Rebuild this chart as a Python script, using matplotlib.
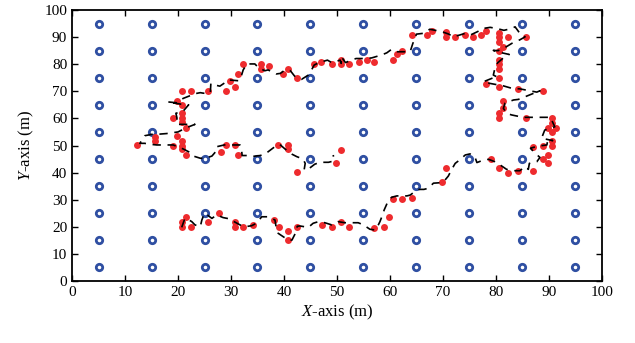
import matplotlib
matplotlib.use('Agg')
import matplotlib.pyplot as plt
import numpy as np

plt.rcParams['font.family'] = 'Liberation Serif'
plt.rcParams['mathtext.fontset'] = 'custom'
plt.rcParams['mathtext.rm'] = 'Liberation Serif'
plt.rcParams['mathtext.it'] = 'Liberation Serif:italic'

# anchor nodes on a 10 m grid
grid_x = [5, 15, 25, 35, 45, 55, 65, 75, 85, 95]
grid_y = [5, 15, 25, 35, 45, 55, 65, 75, 85, 95]

# estimated positions (red)
est_x = [12.3, 15.7, 15.7, 19.0, 20.7, 20.7, 19.9, 20.7, 21.5, 21.5, 20.7, 20.7, 20.7, 19.0, 20.7, 19.9,
         20.7, 22.4, 25.6, 29.0, 30.7, 29.9, 31.4, 32.3, 35.7, 35.7, 37.1, 39.9, 40.7, 42.4, 45.6, 47.0,
         49.0, 50.7, 50.7, 52.3, 54.2, 55.7, 57.0, 60.6, 61.4, 62.3, 64.2, 67.0, 68.0, 70.6, 70.6, 72.3,
         74.2, 75.6, 77.1, 78.1, 80.6, 80.6, 80.6, 82.3, 85.7, 81.4, 80.6, 80.6, 80.6, 80.6, 80.6, 78.1,
         80.6, 84.2, 88.9, 81.4, 81.4, 80.6, 80.6, 85.7, 90.6, 90.6, 91.4, 89.9, 90.6, 90.6, 90.6, 88.9,
         87.0, 88.9, 89.9, 89.9, 87.0, 84.2, 82.3, 80.6, 79.0, 70.6, 69.9, 64.2, 62.3, 60.6, 59.9, 58.9,
         57.0, 20.7, 20.7, 21.5, 22.4, 25.6, 27.7, 30.7, 30.7, 32.3, 34.2, 38.1, 39.1, 40.7, 40.7, 42.4,
         47.1, 49.0, 50.7, 52.3, 28.2, 29.0, 30.7, 31.4, 38.9, 40.7, 40.7, 42.4, 50.7, 49.9]
est_y = [50.1, 51.8, 53.3, 50.0, 50.0, 51.8, 53.6, 48.6, 46.5, 56.6, 58.6, 60.0, 61.9, 60.0, 65.0, 66.5,
         70.1, 70.1, 70.1, 70.1, 71.7, 73.7, 76.5, 80.1, 80.1, 78.3, 79.3, 76.5, 78.3, 75.0, 80.1, 80.8,
         80.1, 81.5, 80.1, 80.1, 80.8, 81.5, 80.8, 81.5, 83.6, 85.0, 90.9, 90.9, 92.4, 91.8, 90.0, 90.0,
         90.9, 90.0, 90.9, 92.4, 91.6, 90.0, 88.2, 90.0, 90.0, 86.5, 85.0, 81.5, 80.1, 78.3, 75.0, 72.7,
         71.7, 70.7, 70.1, 66.5, 63.7, 61.9, 60.0, 60.0, 60.0, 58.4, 56.6, 56.6, 55.1, 51.8, 50.0, 50.0,
         49.6, 45.1, 46.5, 43.7, 40.7, 40.7, 40.0, 41.8, 45.1, 41.8, 36.5, 30.7, 30.1, 30.1, 23.7, 20.0,
         19.4, 21.9, 20.0, 23.7, 20.0, 21.9, 25.2, 21.9, 20.0, 20.0, 20.8, 22.5, 20.0, 18.5, 15.1, 20.0,
         20.8, 20.0, 21.9, 20.0, 47.6, 50.2, 50.2, 46.5, 50.2, 50.2, 48.6, 40.1, 48.5, 43.7]

# travelled path (dashed)
path_x = [20.7, 21.3, 21.6, 22.6, 23.2, 24.2, 24.5, 24.8, 25.1, 26.4, 27.3, 28.5, 29.8, 30.4, 31.7, 32.6,
          33.9, 34.8, 35.8, 37.0, 38.3, 38.5, 38.9, 39.9, 40.8, 41.5, 42.3, 42.5, 43.0, 44.6, 45.5, 46.5,
          47.7, 49.0, 50.2, 51.5, 52.8, 54.0, 55.0, 56.2, 57.2, 57.8, 58.1, 58.6, 58.9, 59.6, 60.3, 61.3,
          63.2, 63.8, 64.7, 65.5, 66.4, 67.2, 68.2, 69.8, 70.4, 71.0, 71.6, 72.3, 73.1, 74.2, 75.1, 76.0,
          76.4, 77.6, 78.6, 79.8, 80.8, 82.0, 83.3, 84.5, 85.5, 86.1, 86.3, 87.7, 88.3, 87.4, 86.5, 88.0,
          89.6, 89.8, 90.7, 88.6, 89.2, 91.1, 90.5, 90.3, 86.9, 85.1, 82.9, 82.0, 81.4, 81.7, 83.3, 84.2,
          85.5, 88.3, 87.7, 84.5, 83.0, 81.4, 78.9, 77.6, 79.5, 80.3, 79.5, 79.8, 80.3, 81.5, 82.5, 80.9,
          79.5, 80.4, 82.0, 83.0, 84.5, 85.5, 84.5, 83.6, 83.0, 81.5, 80.1, 78.9, 77.6, 76.5, 75.2, 74.2,
          73.2, 71.9, 71.1, 70.1, 68.8, 67.5, 66.3, 65.0, 64.3, 63.8, 62.2, 61.3, 60.3, 59.4, 58.4, 56.5,
          54.9, 53.6, 52.7, 51.6, 50.8, 50.8, 50.6, 49.0, 48.2, 46.6, 45.7, 45.2, 44.6, 43.3, 42.0, 41.2,
          40.2, 39.3, 38.5, 37.0, 36.4, 35.3, 34.5, 33.0, 32.3, 32.0, 31.4, 29.5, 29.1, 27.9, 27.0, 26.2,
          26.1, 24.8, 24.2, 22.9, 22.3, 21.0, 19.6, 18.0, 20.4, 22.0, 20.9, 19.6, 19.8, 19.8, 20.4, 23.2,
          21.5, 20.0, 17.8, 16.5, 15.3, 13.7, 12.8, 13.7, 15.0, 16.0, 17.3, 19.1, 21.0, 22.0, 22.9, 24.2,
          25.2, 26.4, 27.1, 27.2, 28.7, 31.7, 32.0, 32.1, 33.3, 34.2, 35.5, 36.4, 37.4, 38.3, 39.2, 40.2,
          41.5, 42.4, 43.6, 44.0, 43.8, 44.8, 45.8, 46.8, 48.4, 49.4, 49.3]
path_y = [19.8, 23.1, 23.1, 21.9, 20.7, 20.0, 22.5, 24.0, 25.0, 23.1, 24.4, 23.4, 22.9, 22.1, 20.7, 20.0,
          20.4, 21.3, 23.7, 23.7, 22.5, 20.0, 17.6, 16.3, 15.1, 15.1, 18.2, 20.2, 20.3, 19.8, 21.3, 21.9,
          21.5, 20.7, 21.9, 21.5, 21.5, 21.5, 20.7, 19.1, 18.8, 20.7, 21.9, 24.4, 26.2, 29.3, 30.9, 31.4,
          31.4, 31.7, 33.0, 33.8, 33.8, 34.2, 36.1, 36.3, 37.3, 38.7, 41.0, 43.4, 44.6, 46.5, 46.9, 45.9,
          43.7, 44.6, 44.9, 44.0, 42.8, 41.2, 40.7, 40.7, 42.2, 41.2, 43.4, 44.0, 45.6, 47.1, 49.0, 49.8,
          50.2, 52.3, 51.8, 52.7, 55.7, 56.9, 59.4, 60.4, 60.4, 60.4, 61.3, 61.9, 63.7, 65.6, 66.8, 67.0,
          68.0, 70.2, 69.7, 70.9, 71.1, 72.0, 72.9, 73.5, 75.0, 75.2, 76.0, 78.5, 80.5, 82.5, 83.6, 84.3,
          85.1, 85.0, 86.5, 87.7, 89.0, 90.1, 91.4, 93.8, 93.2, 92.5, 93.2, 93.6, 93.2, 92.0, 90.8, 91.4,
          90.8, 90.1, 91.1, 91.8, 92.4, 92.9, 91.4, 91.1, 87.6, 84.6, 84.6, 84.6, 85.5, 84.2, 83.4, 82.3,
          82.1, 82.1, 81.5, 80.6, 82.8, 80.3, 81.5, 80.6, 81.5, 80.6, 79.7, 77.9, 76.0, 74.4, 75.6, 77.6,
          77.9, 76.6, 76.4, 77.9, 77.6, 78.5, 80.1, 80.1, 77.9, 76.0, 73.9, 74.2, 73.5, 71.9, 72.3, 72.9,
          69.5, 69.3, 69.5, 69.0, 68.4, 67.4, 65.8, 66.1, 65.3, 65.0, 62.5, 61.9, 60.2, 57.8, 57.8, 57.8,
          56.5, 55.0, 54.4, 54.2, 54.2, 53.6, 50.8, 50.8, 50.4, 50.2, 50.2, 50.2, 48.7, 47.7, 46.1, 45.3,
          45.3, 46.1, 47.7, 49.5, 50.2, 50.2, 48.3, 46.3, 46.3, 46.0, 46.3, 46.8, 48.3, 49.6, 50.4, 48.7,
          46.8, 45.9, 45.0, 43.4, 41.0, 41.6, 43.1, 43.8, 43.8, 44.3, 46.5]

fig = plt.figure(figsize=(6.35, 3.43), dpi=100)
ax = fig.add_axes([0.1134, 0.1808, 0.8346, 0.7900])

gx, gy = np.meshgrid(grid_x, grid_y)
ax.plot(gx.ravel(), gy.ravel(), 'o', ls='none', ms=4.6, mfc='white', mec='#2f4fa2', mew=2.0, zorder=2)
ax.plot(est_x, est_y, 'o', ls='none', ms=5, color='#ee2b2e', mec='none', zorder=3)
ax.plot(path_x, path_y, '--', color='black', lw=1.2, dashes=(5, 4), zorder=4)

ax.set_xlim(0, 100)
ax.set_ylim(0, 100)
ax.set_xticks(np.arange(0, 101, 10))
ax.set_yticks(np.arange(0, 101, 10))
ax.tick_params(direction='in', top=True, right=True, labelsize=11, length=4, width=1)
for s in ax.spines.values():
    s.set_linewidth(1.3)

ax.set_xlabel(r'$X$-axis (m)', fontsize=12, labelpad=3)
ax.set_ylabel(r'$Y$-axis (m)', fontsize=12, labelpad=6)

plt.savefig('out.png', dpi=100)
